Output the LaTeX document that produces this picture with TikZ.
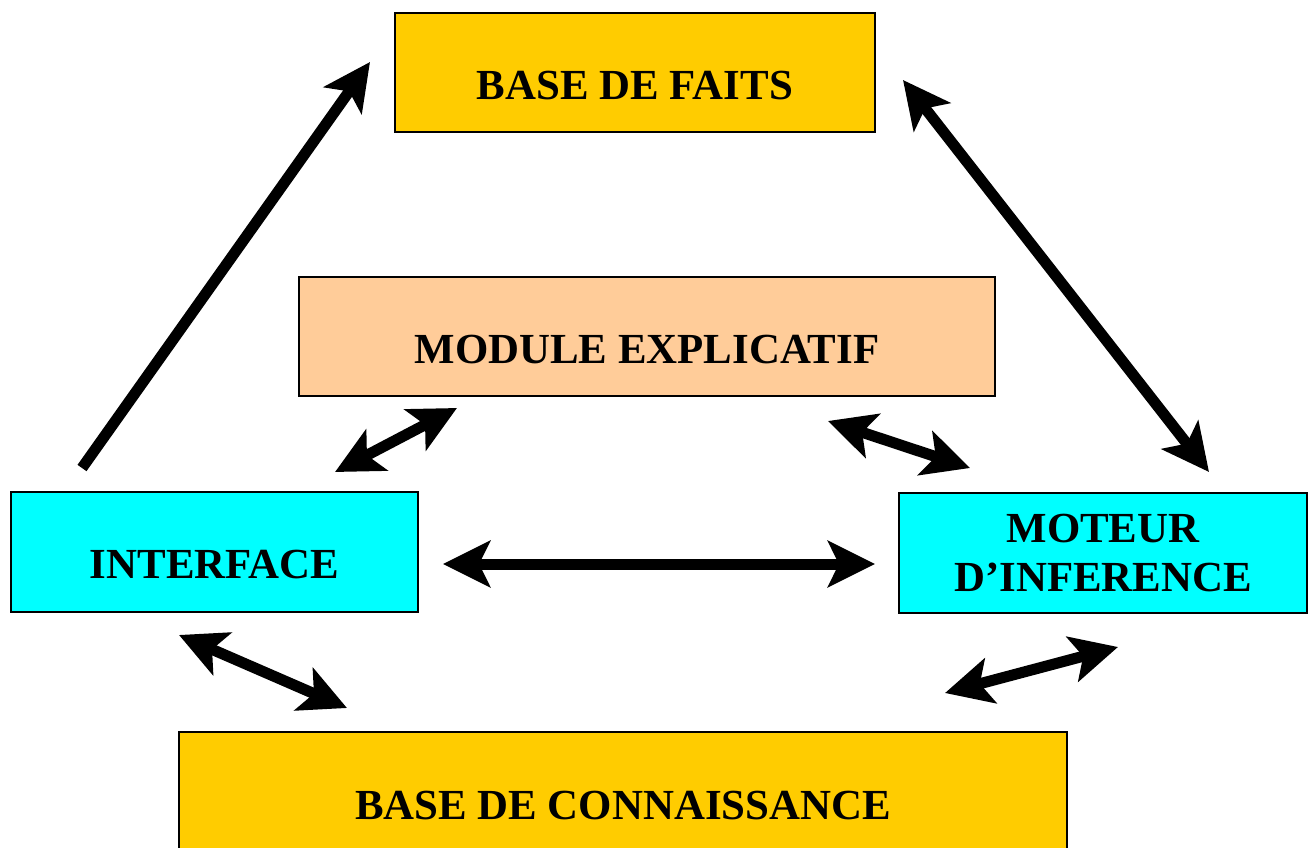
\documentclass[tikz,border=0pt]{standalone}
\usepackage{fontspec}
\setmainfont{Liberation Serif}
\usetikzlibrary{arrows.meta}
\definecolor{gold}{RGB}{255,204,0}
\definecolor{peach}{RGB}{255,204,153}
\definecolor{aqua}{RGB}{0,255,255}

\begin{document}
\begin{tikzpicture}[
  x=0.02cm, y=-0.02cm,
  box/.style={draw, line width=0.8pt, minimum height=2.4cm, align=center,
    font=\fontsize{24.4}{28}\selectfont\bfseries},
  low/.style={text height=1.08cm, text depth=0pt},
  arr/.style={-{Stealth[length=0.94cm, width=0.92cm, inset=0.22cm]}, line width=0.22cm},
  dbl/.style={{Stealth[length=0.94cm, width=0.92cm, inset=0.22cm]}-{Stealth[length=0.94cm, width=0.92cm, inset=0.22cm]}, line width=0.22cm}
]
\useasboundingbox (0,0) rectangle (1312,848);

\node[box, low, fill=gold, minimum width=9.6cm, minimum height=2.38cm] (faits) at (635,72.5) {BASE DE FAITS};
\node[box, low, fill=peach, minimum width=13.92cm, minimum height=2.38cm] (module) at (647,336.5) {MODULE EXPLICATIF};
\node[box, low, fill=aqua, minimum width=8.14cm] (interface) at (214.5,552) {INTERFACE};
\node[box, fill=aqua, minimum width=8.16cm] (moteur) at (1103,553) {MOTEUR\\D’INFERENCE};
\node[box, low, fill=gold, minimum width=17.76cm] (connaissance) at (623,792) {BASE DE CONNAISSANCE};

% arrow ends
\coordinate (if-up) at (82,468);
\coordinate (faits-l) at (370,62);
\coordinate (faits-r) at (903,80);
\coordinate (mot-up) at (1209,472);
\coordinate (if-mod) at (335,472);
\coordinate (mod-if) at (457,408);
\coordinate (mod-mot) at (828,421);
\coordinate (mot-mod) at (970,468);
\coordinate (if-r) at (443,564);
\coordinate (mot-l) at (875,564);
\coordinate (if-dn) at (179,635);
\coordinate (con-l) at (347,708);
\coordinate (con-r) at (945,693);
\coordinate (mot-dn) at (1118,647);

\draw[arr] (if-up) -- (faits-l);
\draw[dbl] (faits-r) -- (mot-up);
\draw[dbl] (if-mod) -- (mod-if);
\draw[dbl] (mod-mot) -- (mot-mod);
\draw[dbl] (if-r) -- (mot-l);
\draw[dbl] (if-dn) -- (con-l);
\draw[dbl] (con-r) -- (mot-dn);
\end{tikzpicture}
\end{document}
